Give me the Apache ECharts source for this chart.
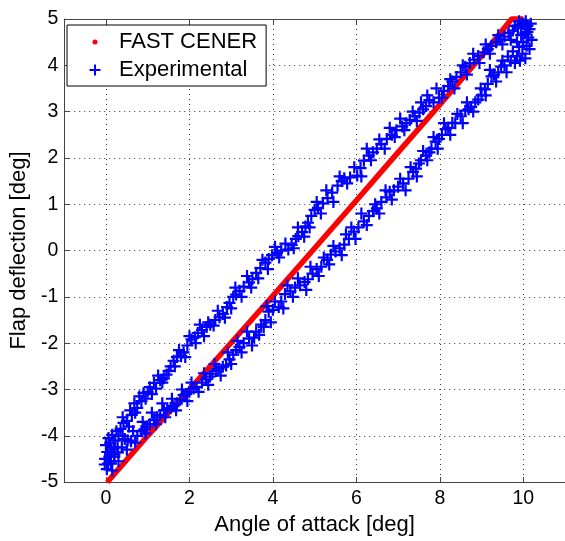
<!DOCTYPE html>
<html><head><meta charset="utf-8">
<script src="https://cdn.jsdelivr.net/npm/echarts@6/dist/echarts.min.js"></script>
<style>html,body{margin:0;padding:0;background:#fff}#c{width:565px;height:541px}</style>
</head><body><div id="c"></div>
<script>
// Axis ticks
const xTicks = [0, 2, 4, 6, 8, 10];
const yTicks = [-5, -4, -3, -2, -1, 0, 1, 2, 3, 4, 5];

// FAST CENER simulation (dense red trace)
const fastX = [0.03, 1, 2, 3, 4, 5, 6, 7, 8, 9, 9.72, 10];
const fastY = [-5, -4, -3, -1.99, -0.98, 0.05, 1.08, 2.12, 3.15, 4.2, 5, 5];

// Experimental points: cluster near minimum
const expClusterLow = [
  [0.02,-4.72],[0.05,-4.6],[-0.02,-4.5],[0.08,-4.45],[0.03,-4.35],[0.12,-4.3],[0.0,-4.2],
  [0.1,-4.15],[0.18,-4.25],[0.06,-4.05],[0.15,-3.98],[0.22,-4.1],[0.25,-3.9],[0.3,-4.0],
  [0.12,-4.55],[0.2,-4.4],[-0.03,-4.62],[0.28,-4.25]
];
// Experimental: upper branch (increasing)
const expUpper = [
  [0.35,-3.85],[0.42,-3.72],[0.5,-3.68],[0.55,-3.8],[0.62,-3.55],[0.68,-3.3],[0.75,-3.4],[0.8,-3.15],
  [0.9,-3.08],[0.95,-3.2],[1.05,-2.95],[1.15,-2.86],[1.2,-2.98],[1.3,-2.8],[1.39,-2.76],[1.45,-2.68],
  [1.55,-2.5],[1.62,-2.38],[1.7,-2.3],[1.8,-2.28],[1.86,-2.2],[1.95,-2.05],[2.05,-1.92],[2.13,-1.87],
  [2.2,-1.78],[2.3,-1.72],[2.41,-1.65],[2.5,-1.6],[2.62,-1.5],[2.72,-1.44],[2.8,-1.37],[2.9,-1.22],
  [2.96,-1.13],[3.05,-1.0],[3.12,-0.95],[3.2,-0.87],[3.3,-0.78],[3.43,-0.69],[3.51,-0.62],[3.6,-0.48],
  [3.7,-0.38],[3.82,-0.26],[3.9,-0.18],[3.98,-0.1],[4.1,-0.05],[4.2,0.0],[4.37,0.02],[4.45,0.12],
  [4.55,0.25],[4.61,0.31],[4.7,0.4],[4.78,0.52],[4.84,0.6],[4.92,0.75],[5.0,0.88],[5.08,0.92],
  [5.2,1.02],[5.31,1.13],[5.42,1.25],[5.55,1.4],[5.65,1.5],[5.71,1.56],[5.85,1.58],[6.02,1.62],
  [6.1,1.78],[6.18,1.94],[6.3,2.05],[6.4,2.12],[6.49,2.2],[6.6,2.3],[6.73,2.41],[6.85,2.5],
  [6.96,2.6],[7.1,2.68],[7.2,2.75],[7.28,2.82],[7.4,2.9],[7.51,2.98],[7.6,3.05],[7.67,3.12],
  [7.75,3.25],[7.85,3.2],[7.98,3.3],[8.1,3.45],[8.2,3.55],[8.3,3.65],[8.4,3.75],[8.5,3.85],
  [8.61,3.97],[8.72,4.05],[8.82,4.12],[8.92,4.2],[9.05,4.28],[9.15,4.35],[9.24,4.42],[9.35,4.5],
  [9.45,4.56],[9.55,4.62],[9.65,4.7],[9.75,4.75],[9.87,4.8],[9.95,4.88],[10.06,4.95]
];
const expUpper2 = [
  [0.4,-3.6],[0.58,-3.45],[0.7,-3.5],[0.85,-3.25],[1.0,-3.05],[1.1,-3.1],[1.25,-2.7],[1.35,-2.85],
  [1.5,-2.6],[1.65,-2.5],[1.75,-2.15],[1.9,-2.3],[2.0,-1.85],[2.15,-2.0],[2.25,-1.6],[2.35,-1.85],
  [2.45,-1.55],[2.58,-1.62],[2.68,-1.3],[2.85,-1.45],[3.0,-1.25],[3.1,-0.8],[3.25,-1.0],[3.38,-0.55],
  [3.48,-0.8],[3.65,-0.6],[3.75,-0.2],[3.88,-0.4],[4.05,0.08],[4.15,-0.15],[4.3,0.15],[4.5,0.05],
  [4.6,0.5],[4.75,0.3],[4.88,0.5],[5.05,1.05],[5.15,0.8],[5.28,1.3],[5.45,1.05],[5.6,1.6],
  [5.78,1.45],[5.95,1.8],[6.12,1.6],[6.25,2.2],[6.35,1.95],[6.55,2.4],[6.68,2.2],[6.8,2.65],
  [6.92,2.45],[7.05,2.85],[7.15,2.6],[7.35,3.0],[7.45,2.8],[7.55,3.2],[7.7,3.35],[7.92,3.5],
  [8.05,3.3],[8.25,3.7],[8.35,3.5],[8.55,4.0],[8.65,3.8],[8.8,4.25],[8.95,4.05],[9.1,4.45],
  [9.2,4.25],[9.4,4.65],[9.5,4.45],[9.7,4.55],[9.8,4.85]
];
// Experimental: cluster near maximum
const expClusterHigh = [
  [9.9,4.95],[10.0,4.9],[10.1,4.85],[10.15,4.78],[10.05,4.7],[9.95,4.65],[10.12,4.6],[10.2,4.55],
  [10.0,4.5],[10.08,4.42],[9.9,4.4],[10.15,4.35],[9.98,4.25],[10.05,4.15],[9.85,4.2],[9.8,4.05],
  [9.92,4.1],[10.1,4.72],[10.18,4.9]
];
// Experimental: lower branch (decreasing)
const expLower = [
  [9.75,4.3],[9.7,4.1],[9.63,4.19],[9.55,4.0],[9.47,3.97],[9.4,3.85],[9.3,3.8],[9.24,3.76],
  [9.15,3.6],[9.08,3.48],[9.0,3.35],[8.92,3.26],[8.85,3.2],[8.75,3.1],[8.69,3.05],[8.61,3.02],
  [8.5,2.9],[8.37,2.75],[8.3,2.76],[8.2,2.65],[8.14,2.62],[8.05,2.5],[7.98,2.41],[7.9,2.35],
  [7.8,2.2],[7.75,2.12],[7.67,2.05],[7.55,1.95],[7.5,1.88],[7.43,1.77],[7.36,1.7],[7.25,1.55],
  [7.12,1.45],[7.0,1.38],[6.9,1.3],[6.8,1.27],[6.72,1.15],[6.6,1.05],[6.49,0.91],[6.4,0.85],
  [6.3,0.75],[6.18,0.63],[6.05,0.5],[5.94,0.41],[5.82,0.25],[5.71,0.13],[5.6,0.05],[5.5,-0.02],
  [5.39,-0.09],[5.3,-0.2],[5.16,-0.35],[5.05,-0.4],[4.95,-0.5],[4.84,-0.62],[4.76,-0.68],[4.65,-0.75],
  [4.53,-0.8],[4.42,-0.88],[4.29,-0.94],[4.2,-1.1],[4.14,-1.22],[4.0,-1.28],[3.9,-1.32],[3.82,-1.5],
  [3.78,-1.65],[3.67,-1.82],[3.55,-1.88],[3.43,-1.9],[3.3,-2.0],[3.2,-2.08],[3.12,-2.15],[3.05,-2.25],
  [2.96,-2.35],[2.88,-2.48],[2.8,-2.51],[2.7,-2.55],[2.64,-2.6],[2.55,-2.66],[2.49,-2.72],[2.4,-2.78],
  [2.3,-2.85],[2.17,-2.95],[2.1,-2.98],[2.0,-3.05],[1.92,-3.1],[1.86,-3.12],[1.78,-3.22],[1.7,-3.3],
  [1.62,-3.36],[1.55,-3.4],[1.47,-3.43],[1.39,-3.45],[1.3,-3.55],[1.23,-3.6],[1.15,-3.66],[1.05,-3.75],
  [0.98,-3.8],[0.92,-3.86],[0.85,-3.9],[0.75,-4.0],[0.6,-4.12],[0.52,-4.1],[0.45,-4.07],[0.38,-4.25],
  [0.29,-4.36],[0.2,-4.45],[0.12,-4.6]
];
const expLower2 = [
  [9.85,4.5],[9.6,3.85],[9.5,4.1],[9.35,3.65],[9.2,3.9],[9.1,3.35],[8.98,3.5],[8.8,3.0],
  [8.65,3.2],[8.55,2.75],[8.42,2.95],[8.25,2.5],[8.1,2.75],[7.95,2.2],[7.85,2.45],[7.7,1.95],
  [7.6,2.15],[7.45,1.6],[7.3,1.8],[7.18,1.3],[7.05,1.55],[6.85,1.1],[6.7,1.3],[6.55,0.8],
  [6.45,1.0],[6.25,0.55],[6.12,0.8],[5.98,0.25],[5.88,0.5],[5.75,0.35],[5.65,-0.1],[5.45,0.1],
  [5.35,-0.3],[5.22,-0.15],[5.1,-0.55],[4.9,-0.35],[4.8,-0.85],[4.6,-0.6],[4.48,-1.0],[4.35,-0.75],
  [4.25,-1.25],[4.05,-1.1],[3.95,-1.55],[3.85,-1.2],[3.72,-1.6],[3.6,-1.75],[3.5,-2.05],[3.38,-1.75],
  [3.25,-2.2],[3.15,-1.95],[3.0,-2.45],[2.92,-2.2],[2.75,-2.7],[2.6,-2.45],[2.45,-2.9],[2.35,-2.65],
  [2.22,-3.05],[2.05,-2.85],[1.95,-3.25],[1.82,-3.0],[1.68,-3.45],[1.58,-3.2],[1.42,-3.6],[1.35,-3.3],
  [1.2,-3.75],[1.1,-3.5],[0.95,-3.95],[0.88,-3.7],[0.7,-4.15],[0.65,-3.9],[0.5,-4.3],[0.4,-4.0],
  [0.3,-4.55],[0.15,-4.75]
];

const fastData = fastX.map((x, i) => [x, fastY[i]]);
const expData = expClusterLow.concat(expUpper, expUpper2, expClusterHigh, expLower, expLower2);

const FONT = "'Liberation Sans', Arial, sans-serif";
const plusSymbol = 'path://M4.9,0H7.1V4.9H12V7.1H7.1V12H4.9V7.1H0V4.9H4.9Z';
const legendPlus = 'path://M0,0L0,0M33,14L33,14M13,1.5H15V6H19.5V8H15V12.5H13V8H8.5V6H13Z';
const legendDot = 'path://M0,0L0,0M33,14L33,14M16.5,7A2.5,2.5,0,1,1,11.5,7A2.5,2.5,0,1,1,16.5,7Z';

const chart = echarts.init(document.getElementById('c'), null, {renderer: 'canvas'});
chart.setOption({
  animation: false,
  backgroundColor: '#fff',
  textStyle: {fontFamily: FONT},
  grid: {left: 59, top: 19, width: 509, height: 468, containLabel: false},
  legend: {
    show: true, orient: 'vertical', left: 67, top: 25,
    padding: [6, 9, 5, 14], itemGap: 6, itemWidth: 33, itemHeight: 14,
    selectedMode: false, backgroundColor: '#fff', borderColor: '#000', borderWidth: 1, borderRadius: 0,
    textStyle: {fontFamily: FONT, fontSize: 22, lineHeight: 22, color: '#000'},
    data: [
      {name: 'FAST CENER', icon: legendDot, itemStyle: {color: '#ff0000', borderWidth: 0}},
      {name: 'Experimental', icon: legendPlus, itemStyle: {color: '#0000ff', borderWidth: 0}}
    ]
  },
  xAxis: [{
    type: 'value', min: -1, max: 11, position: 'bottom',
    name: 'Angle of attack [deg]', nameLocation: 'middle', nameGap: 28,
    nameTextStyle: {fontFamily: FONT, fontSize: 22, color: '#000'},
    axisLine: {show: true, onZero: false, lineStyle: {color: '#444', width: 1}},
    axisTick: {show: true, inside: true, length: 5, customValues: xTicks, lineStyle: {color: '#444'}},
    axisLabel: {show: true, customValues: xTicks, margin: 7, fontFamily: FONT, fontSize: 19.5, color: '#000'},
    splitLine: {show: true, lineStyle: {color: '#333', width: 1, type: [1, 4]}}
  }, {
    type: 'value', min: -1, max: 11, position: 'top',
    axisLine: {show: true, onZero: false, lineStyle: {color: '#444', width: 1}},
    axisTick: {show: true, inside: true, length: 5, customValues: xTicks, lineStyle: {color: '#444'}},
    axisLabel: {show: false},
    splitLine: {show: false}
  }],
  yAxis: [{
    type: 'value', min: -5, max: 5, interval: 1, position: 'left',
    name: 'Flap deflection [deg]', nameLocation: 'middle', nameGap: 30,
    nameTextStyle: {fontFamily: FONT, fontSize: 22, color: '#000'},
    axisLine: {show: true, onZero: false, lineStyle: {color: '#444', width: 1}},
    axisTick: {show: true, inside: true, length: 5, lineStyle: {color: '#444'}},
    axisLabel: {show: true, margin: 6, fontFamily: FONT, fontSize: 19.5, color: '#000',
      formatter: v => yTicks.includes(v) ? String(v) : ''},
    splitLine: {show: true, lineStyle: {color: '#333', width: 1, type: [1, 4]}}
  }],
  series: [{
    name: 'FAST CENER', type: 'line', data: fastData, xAxisIndex: 0, yAxisIndex: 0,
    showSymbol: false, symbol: 'none', clip: false,
    lineStyle: {color: '#ff0000', width: 5.5}, itemStyle: {color: '#ff0000'}, z: 2
  }, {
    name: 'Experimental', type: 'scatter', data: expData, xAxisIndex: 0, yAxisIndex: 0,
    symbol: plusSymbol, symbolSize: 12, itemStyle: {color: '#0000ff', opacity: 1}, z: 3
  }]
});
</script>
</body></html>
